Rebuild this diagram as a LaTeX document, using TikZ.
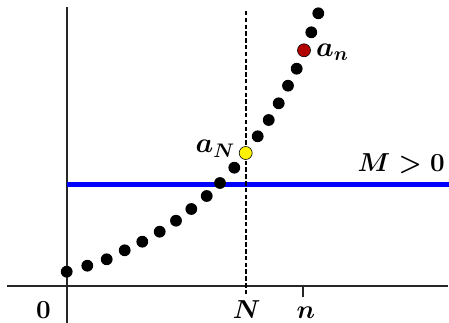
\RequirePackage{fix-cm}
\documentclass[tikz,border=0pt]{standalone}
\usepackage{amsmath,bm}
\begin{document}
\begin{tikzpicture}[x=1pt,y=-1pt,
  axis/.style={line width=2.2pt,draw=black!85},
  dot/.style={circle,fill=black,inner sep=0pt,minimum size=11.8pt},
  bigdot/.style={circle,draw=black,line width=0.6pt,inner sep=0pt,minimum size=13pt},
  lbl/.style={font=\fontsize{26}{30}\selectfont\boldmath,inner sep=0pt},
  albl/.style={font=\fontsize{28}{32}\selectfont\boldmath,inner sep=0pt}]
\useasboundingbox (0,0) rectangle (449,323);
% axes
\coordinate (xl) at (7,286);
\coordinate (xr) at (448,286);
\coordinate (yt) at (66.7,7);
\coordinate (yb) at (66.7,323);
\draw[axis] (xl) -- (xr);
\draw[axis] (yt) -- (yb);
% blue line
\coordinate (bl) at (66.7,184.3);
\coordinate (br) at (449,184.3);
\draw[blue,line width=5pt] (bl) -- (br);
% dashed line
\coordinate (dt) at (245.7,11);
\coordinate (db) at (245.7,295);
\draw[line width=1.7pt,dash pattern=on 4.5pt off 2.3pt] (dt) -- (db);
% tick at n
\coordinate (nt) at (303.3,286);
\coordinate (nb) at (303.3,297);
\draw[axis] (nt) -- (nb);
% dots
\foreach \x/\y [count=\i] in {66.7/271.7,87.3/265.7,106.7/259.3,124.7/250.3,142.3/241.7,159.7/231.7,176/220.7,191.3/209,206.7/196,220/183,234.3/167.7,257.7/136.3,268.7/120,278.7/103.3,288/85.7,296.7/68.7,311.3/32.3,318.3/13.3}
  \node[dot] (p\i) at (\x,\y) {};
\node[bigdot,fill=yellow] (aN) at (245.7,153) {};
\node[bigdot,fill=red!70!black] (an) at (304,50.3) {};
% labels
\node[albl,anchor=base west] (lan) at (316,56.5) {$a_n$};
\node[albl,anchor=base east] (laN) at (235,153) {$a_N$};
\node[lbl,anchor=base east] (lM) at (445,171.7) {$M > 0$};
\node[lbl,anchor=base] (l0) at (43.5,318) {$0$};
\node[lbl,anchor=base] (lN) at (246.7,318) {$N$};
\node[lbl,anchor=base] (ln) at (306,318) {$n$};
\end{tikzpicture}
\end{document}
